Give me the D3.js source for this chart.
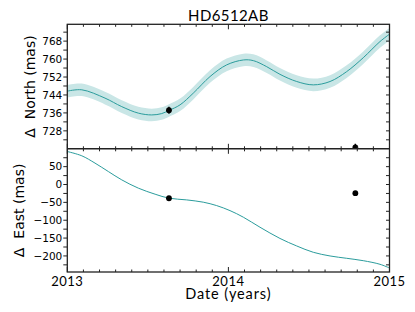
<!DOCTYPE html>
<html>
<head>
<meta charset="utf-8">
<script src="https://cdn.jsdelivr.net/npm/d3@7"></script>
<style>
  body { margin: 0; background: #fff; }
  .ylab { font-family: "DejaVu Sans", sans-serif; font-size: 10.5px; }
  .xlab { font-family: Lato, "DejaVu Sans", sans-serif; font-size: 13px; letter-spacing: 0.5px; }
</style>
</head>
<body>
<div id="chart"></div>
<script>
// model track (date in years, offsets in mas)
var northDates = [2013.0, 2013.09, 2013.234, 2013.338, 2013.441, 2013.524, 2013.586, 2013.631, 2013.70,
  2013.782, 2013.886, 2013.989, 2014.093, 2014.155, 2014.238, 2014.320, 2014.424, 2014.527, 2014.631,
  2014.734, 2014.837, 2014.941, 2015.0];
var northModel = [745.7, 746.3, 742.6, 738.8, 735.9, 735.1, 735.7, 737.1, 739.6,
  744.8, 752.2, 757.4, 759.6, 759.3, 756.6, 753.2, 750.0, 748.5, 750.0,
  754.4, 760.6, 767.8, 771.1];
var northErr = 2.8;
var eastDates = [2013.0, 2013.09, 2013.172, 2013.255, 2013.338, 2013.441, 2013.545, 2013.631, 2013.741,
  2013.844, 2013.927, 2014.010, 2014.093, 2014.196, 2014.320, 2014.424, 2014.527, 2014.631, 2014.734,
  2014.837, 2014.941, 2015.0];
var eastModel = [92.4, 80.4, 59.9, 36.3, 13.0, -10.2, -27.1, -38.3, -43.1,
  -49.5, -59.0, -73.1, -91.6, -119.6, -151.0, -172.1, -189.8, -200.1, -206.6,
  -213.3, -223.4, -233.8];

// measurements
var obsDates = [2013.631, 2014.788];
var obsNorth = [737.2, 720.6];
var obsNorthErr = [1.6, 1.6];
var obsEast = [-38.5, -24.2];

var northTicks = d3.range(720, 776, 4);
var northLabels = [728, 736, 744, 752, 760, 768];
var eastTicks = d3.range(-225, 101, 25);
var eastLabels = [-200, -150, -100, -50, 0, 50];
var yearTicks = [2013, 2014, 2015];

var svgWidth = 415, svgHeight = 312;
var pLeft = 67.3, pRight = 389.5, pTop = 24.3, pMid = 148.8, pBottom = 272;

var svg = d3.select("#chart").append("svg")
    .attr("width", svgWidth)
    .attr("height", svgHeight);

var x = d3.scaleLinear().domain([2013, 2015]).range([pLeft, pRight]);
var yN = d3.scaleLinear().domain([720, 775.5]).range([pMid, pTop]);
var yE = d3.scaleLinear().domain([-245, 100]).range([pBottom, pMid]);

var teal = "#2b9c9c";
var band = "#c9e6e6";

// clip paths
var defs = svg.append("defs");
defs.append("clipPath").attr("id", "clipN").append("rect")
    .attr("x", pLeft).attr("y", pTop).attr("width", pRight - pLeft).attr("height", pMid - pTop);
defs.append("clipPath").attr("id", "clipE").append("rect")
    .attr("x", pLeft).attr("y", pMid).attr("width", pRight - pLeft).attr("height", pBottom - pMid);

// top panel: north
var gN = svg.append("g").attr("clip-path", "url(#clipN)");
var north = northDates.map((d, i) => ({ t: d, v: northModel[i] }));

gN.append("path")
    .datum(north)
    .attr("fill", band)
    .attr("d", d3.area()
        .x(d => x(d.t))
        .y0(d => yN(d.v - northErr))
        .y1(d => yN(d.v + northErr))
        .curve(d3.curveCatmullRom));

gN.append("path")
    .datum(north)
    .attr("fill", "none")
    .attr("stroke", teal)
    .attr("stroke-width", 1)
    .attr("d", d3.line().x(d => x(d.t)).y(d => yN(d.v)).curve(d3.curveCatmullRom));

obsDates.forEach(function(t, i) {
    gN.append("line")
        .attr("x1", x(t)).attr("x2", x(t))
        .attr("y1", yN(obsNorth[i] - obsNorthErr[i]))
        .attr("y2", yN(obsNorth[i] + obsNorthErr[i]))
        .attr("stroke", "#000").attr("stroke-width", 1.5);
    gN.append("circle")
        .attr("cx", x(t)).attr("cy", yN(obsNorth[i]))
        .attr("r", 2.9).attr("fill", "#000");
});

// bottom panel: east
var gE = svg.append("g").attr("clip-path", "url(#clipE)");
var east = eastDates.map((d, i) => ({ t: d, v: eastModel[i] }));

gE.append("path")
    .datum(east)
    .attr("fill", "none")
    .attr("stroke", teal)
    .attr("stroke-width", 1)
    .attr("d", d3.line().x(d => x(d.t)).y(d => yE(d.v)).curve(d3.curveCatmullRom));

gE.selectAll("circle")
    .data(obsDates)
    .enter()
    .append("circle")
    .attr("cx", d => x(d))
    .attr("cy", (d, i) => yE(obsEast[i]))
    .attr("r", 2.9)
    .attr("fill", "#000");

// axes
var minorYears = d3.range(2013, 2015.01, 0.1).map(d => +d.toFixed(1));

function xTicks(y0, dir) {
    // dir: +1 ticks go down, -1 ticks go up
    var g = svg.append("g").attr("stroke", "#222").attr("stroke-width", 1);
    minorYears.forEach(function(t) {
        var major = yearTicks.indexOf(t) >= 0;
        var len = major ? 5 : 2.5;
        g.append("line")
            .attr("x1", x(t)).attr("x2", x(t))
            .attr("y1", y0).attr("y2", y0 + dir * len);
    });
}
xTicks(pTop, 1);
xTicks(pMid, -1);
xTicks(pMid, 1);
xTicks(pBottom, -1);

function yTicks(scale, ticks, labels) {
    var g = svg.append("g").attr("stroke", "#222").attr("stroke-width", 1);
    ticks.forEach(function(v) {
        var yy = scale(v);
        g.append("line").attr("x1", pLeft - 4).attr("x2", pLeft).attr("y1", yy).attr("y2", yy);
        g.append("line").attr("x1", pRight - 3.5).attr("x2", pRight).attr("y1", yy).attr("y2", yy);
    });
    svg.append("g").selectAll("text")
        .data(labels)
        .enter()
        .append("text")
        .attr("class", "ylab")
        .attr("x", pLeft - 5)
        .attr("y", d => scale(d))
        .attr("dy", "0.36em")
        .attr("text-anchor", "end")
        .text(d => d3.format("d")(d).replace("-", "\u2212"));
}
yTicks(yN, northTicks.filter(v => yN(v) > pTop + 1 && yN(v) < pMid - 1), northLabels);
yTicks(yE, eastTicks.filter(v => yE(v) > pMid + 1 && yE(v) < pBottom - 1), eastLabels);

// frames
svg.append("rect")
    .attr("x", pLeft).attr("y", pTop)
    .attr("width", pRight - pLeft).attr("height", pBottom - pTop)
    .attr("fill", "none").attr("stroke", "#222").attr("stroke-width", 1.3);
svg.append("line")
    .attr("x1", pLeft).attr("x2", pRight).attr("y1", pMid).attr("y2", pMid)
    .attr("stroke", "#222").attr("stroke-width", 1.6);

// x tick labels
svg.append("g").selectAll("text")
    .data(yearTicks)
    .enter()
    .append("text")
    .attr("class", "xlab")
    .attr("x", d => x(d))
    .attr("y", 285.5)
    .attr("text-anchor", "middle")
    .text(d => d);

// titles
svg.append("text")
    .attr("x", (pLeft + pRight) / 2)
    .attr("y", 20.5)
    .attr("text-anchor", "middle")
    .style("font-family", "Lato, 'DejaVu Sans', sans-serif")
    .style("font-size", "15px")
    .style("letter-spacing", "0.4px")
    .text("HD6512AB");

svg.append("text")
    .attr("x", (pLeft + pRight) / 2)
    .attr("y", 298.5)
    .attr("text-anchor", "middle")
    .style("font-family", "Lato, 'DejaVu Sans', sans-serif")
    .style("font-size", "14.5px")
    .style("letter-spacing", "0.9px")
    .text("Date (years)");

svg.append("text")
    .attr("transform", `translate(35, ${(pTop + pMid) / 2}) rotate(-90)`)
    .attr("text-anchor", "middle")
    .style("font-family", "'DejaVu Sans', sans-serif")
    .style("font-size", "14px")
    .style("white-space", "pre")
    .text("\u0394  North (mas)");

svg.append("text")
    .attr("transform", `translate(24, ${(pMid + pBottom) / 2}) rotate(-90)`)
    .attr("text-anchor", "middle")
    .style("font-family", "'DejaVu Sans', sans-serif")
    .style("font-size", "14px")
    .style("white-space", "pre")
    .text("\u0394  East (mas)");
</script>
</body>
</html>
